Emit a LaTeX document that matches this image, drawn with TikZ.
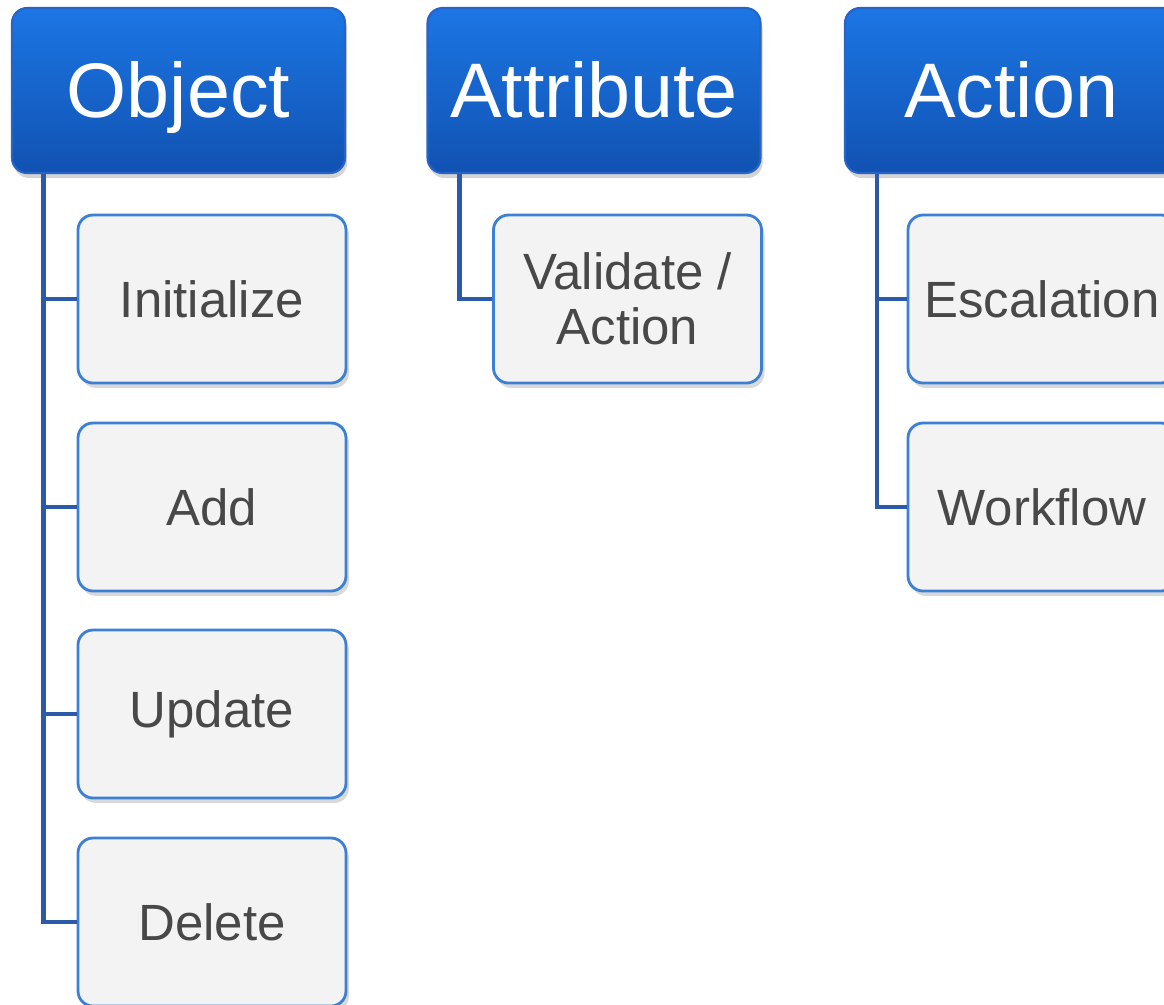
\documentclass[tikz,border=0pt]{standalone}
\usepackage{fontspec}
\setmainfont{Liberation Sans}
\usetikzlibrary{shadows}
\definecolor{hdtop}{RGB}{28,118,228}
\definecolor{hdbot}{RGB}{17,82,178}
\definecolor{hdedge}{RGB}{40,100,200}
\definecolor{itemfill}{RGB}{243,243,243}
\definecolor{itemedge}{RGB}{60,128,214}
\definecolor{itemtext}{RGB}{72,72,72}
\definecolor{linkblue}{RGB}{43,91,168}
\begin{document}
\begin{tikzpicture}[
  header/.style={rounded corners=0.15cm, draw=hdedge, line width=0.6pt,
    top color=hdtop, bottom color=hdbot, text=white,
    minimum width=3.33cm, minimum height=1.65cm,
    text height=0.7cm, text depth=0.17cm,
    font=\fontsize{22}{26}\selectfont,
    drop shadow={opacity=0.35, shadow xshift=0.02cm, shadow yshift=-0.05cm}},
  item/.style={rounded corners=0.15cm, draw=itemedge, line width=0.8pt,
    fill=itemfill, text=itemtext, align=center,
    minimum width=2.68cm, minimum height=1.68cm,
    font=\fontsize{14.5}{15.5}\selectfont,
    drop shadow={opacity=0.3, shadow xshift=0.03cm, shadow yshift=-0.05cm}},
  link/.style={draw=linkblue, line width=1.4pt}]
\useasboundingbox (0, 0) rectangle (11.64, -10.04);
\clip (0, 0) rectangle (11.64, -10.04);
% headers
\node[header] (obj) at (1.785, -0.905) {Object};
\node[header] (attr) at (5.94, -0.905) {Attribute};
\node[header] (act) at (10.115, -0.905) {Action};
% items
\node[item] (init) at (2.12, -2.99) {Initialize};
\node[item] (add) at (2.12, -5.07) {Add};
\node[item] (upd) at (2.12, -7.14) {Update};
\node[item] (del) at (2.12, -9.22) {Delete};
\node[item] (valid) at (6.275, -2.99) {Validate /\\Action};
\node[item] (esc) at (10.42, -2.99) {Escalation};
\node[item] (wf) at (10.42, -5.07) {Workflow};
% links
\draw[link] ([xshift=0.33cm]obj.south west) |- (init.west);
\draw[link] ([xshift=0.33cm]obj.south west) |- (add.west);
\draw[link] ([xshift=0.33cm]obj.south west) |- (upd.west);
\draw[link] ([xshift=0.33cm]obj.south west) |- (del.west);
\draw[link] ([xshift=0.33cm]attr.south west) |- (valid.west);
\draw[link] ([xshift=0.33cm]act.south west) |- (esc.west);
\draw[link] ([xshift=0.33cm]act.south west) |- (wf.west);
\end{tikzpicture}
\end{document}
